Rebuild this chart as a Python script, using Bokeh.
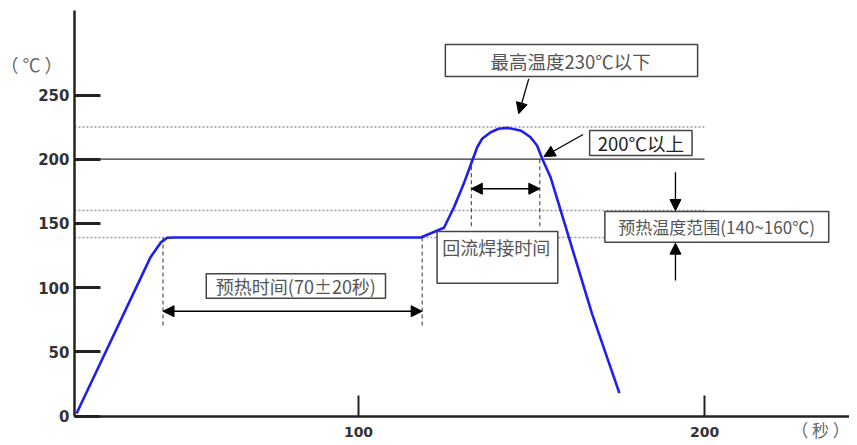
from bokeh.plotting import figure
from bokeh.models import Range1d, FixedTicker, Label, Arrow, NormalHead
from bokeh.embed import file_html
from bokeh.resources import INLINE

# ---- data ----
time_s = [18.5, 39.9, 42.8, 44.7, 47.0, 118.0, 124.7, 127.6, 130.4, 132.9,
          134.3, 135.7, 138.2, 140.5, 143.0, 146.8, 148.3, 149.7, 151.6, 153.1,
          155.5, 159.3, 167.5, 175.4]
temp_c = [2.0, 123.7, 135.0, 138.8, 139.0, 139.0, 146.6, 162.6, 180.8, 199.0,
          209.3, 215.9, 221.0, 223.7, 224.4, 222.4, 219.8, 217.1, 210.7, 200.3,
          186.0, 152.3, 79.6, 17.8]

y_ticks = [0, 50, 100, 150, 200, 250]
x_ticks = [100, 200]

peak_limit = 225
reflow_level = 200
preheat_hi = 160
preheat_lo = 139
line_end = 200

preheat_window = [43.5, 118.4]
reflow_window = [132.6, 152.4]

x_axis_start = 17.9
x_axis_end = 241.9
y_axis_top = 316.2

DARK = "#222222"
GRAY = "#555555"
CJK = "Noto Sans CJK SC"

p = figure(width=849, height=445, output_backend="svg", toolbar_location=None,
           x_range=Range1d(-3.47, 241.9), y_range=Range1d(-22.97, 323.6),
           min_border_left=0, min_border_right=0, min_border_top=0,
           min_border_bottom=0)
p.outline_line_color = None
p.xgrid.visible = False
p.ygrid.visible = False
p.background_fill_color = "white"
p.border_fill_color = "white"

for ax in (p.xaxis[0], p.yaxis[0]):
    ax.axis_line_color = DARK
    ax.axis_line_width = 2.5
    ax.major_tick_line_color = DARK
    ax.major_tick_out = 0
    ax.minor_tick_line_color = None
    ax.major_label_text_font = "DejaVu Sans"
    ax.major_label_text_font_style = "bold"
    ax.major_label_text_color = "#333333"

yax = p.yaxis[0]
yax.fixed_location = x_axis_start
yax.bounds = (0, y_axis_top)
yax.ticker = FixedTicker(ticks=y_ticks)
yax.major_tick_in = 26
yax.major_tick_line_width = 3
yax.major_label_text_font_size = "15px"
yax.major_label_standoff = 5

xax = p.xaxis[0]
xax.fixed_location = 0
xax.bounds = (x_axis_start, x_axis_end)
xax.ticker = FixedTicker(ticks=x_ticks)
xax.major_tick_in = 21
xax.major_tick_line_width = 2
xax.major_label_text_font_size = "14px"
xax.major_label_standoff = 11

# reference levels
for lvl in (peak_limit, preheat_hi, preheat_lo):
    p.line([x_axis_start, line_end], [lvl, lvl], line_color="#9a9a9a",
           line_width=1.5, line_dash="2 2")
p.line([x_axis_start, line_end], [reflow_level, reflow_level],
       line_color="#333333", line_width=1.2)

# dashed window markers
dash_bottom = 69.2
for xv in preheat_window:
    p.line([xv, xv], [preheat_lo, dash_bottom], line_color="#333333",
           line_width=1, line_dash="4 3")
for xv in reflow_window:
    p.line([xv, xv], [reflow_level, 146.0], line_color="#333333",
           line_width=1, line_dash="4 3")

# profile curve
p.line(time_s, temp_c, line_color="#1f1fee", line_width=2.6)

# boxes
boxes = dict(left=[125.1, 166.8, 171.2, 122.7, 56.0],
             right=[198.0, 196.4, 235.9, 157.6, 107.8],
             top=[289.3, 222.3, 159.3, 143.7, 110.7],
             bottom=[264.4, 202.9, 135.4, 103.4, 91.7])
p.quad(left=boxes["left"], right=boxes["right"], top=boxes["top"],
       bottom=boxes["bottom"], fill_color="white", line_color="#444444",
       line_width=1.5)


def head():
    return NormalHead(size=11, fill_color="black", line_color="black")


def arrow(xs, ys, xe, ye, both=False):
    a = Arrow(x_start=xs, y_start=ys, x_end=xe, y_end=ye, line_color="black",
              line_width=1.3, end=head(), start=head() if both else None)
    p.add_layout(a)


arrow(preheat_window[0], 81.6, preheat_window[1], 81.6, both=True)
arrow(reflow_window[0], 177.0, reflow_window[1], 177.0, both=True)
arrow(149.2, 262.6, 146.3, 235.4)
arrow(164.9, 219.2, 153.6, 202.1)
arrow(191.6, 189.9, 191.6, 160.0)
arrow(191.6, 105.5, 191.6, 134.6)


def label(x, y, text, size="17px", color=GRAY, align="center"):
    p.add_layout(Label(x=x, y=y, text=text, text_font=CJK,
                       text_font_size=size, text_color=color,
                       text_align=align, text_baseline="middle"))


label(161.3, 276.1, "最高温度230℃以下", size="18.5px")
label(181.6, 212.6, "200℃以上", size="18.5px", color="#222222")
label(203.5, 147.2, "预热温度范围(140~160℃)")
label(124.2, 131.5, "回流焊接时间", size="18px", align="left")
label(81.9, 101.2, "预热时间(70±20秒)", size="18px")
label(5.5, 274.5, "（ ℃ ）", size="18px", color="#666666")
label(233.5, -10.5, "（ 秒 ）", size="17px", color="#666666")

open("out.html", "w").write(file_html(p, INLINE))
